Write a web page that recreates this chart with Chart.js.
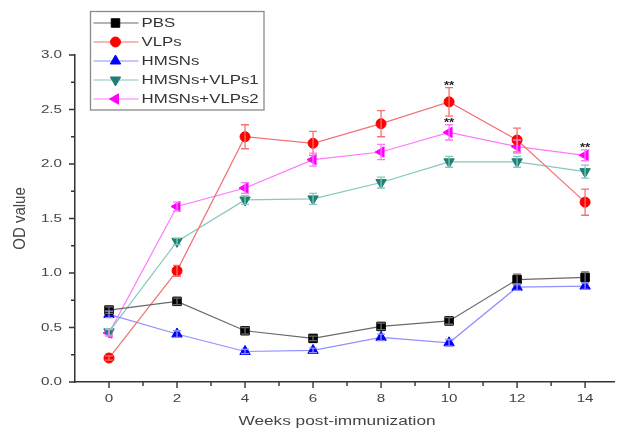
<!DOCTYPE html>
<html>
<head>
<meta charset="utf-8">
<script src="https://cdn.jsdelivr.net/npm/chart.js@4.4.1/dist/chart.umd.min.js"></script>
<style>
html,body{margin:0;padding:0;background:#fff;}
#wrap{width:621px;height:431px;position:relative;}
</style>
</head>
<body>
<div id="wrap"><canvas id="c" width="621" height="431"></canvas></div>
<script>
// ---- data ----
const weeks = [0, 2, 4, 6, 8, 10, 12, 14];
const seriesNames = ['PBS', 'VLPs', 'HMSNs', 'HMSNs+VLPs1', 'HMSNs+VLPs2'];
const pbs   = [0.66, 0.74, 0.47, 0.40, 0.51, 0.56, 0.94, 0.96];
const vlps  = [0.22, 1.02, 2.25, 2.19, 2.37, 2.57, 2.22, 1.65];
const hmsns = [0.62, 0.44, 0.28, 0.29, 0.41, 0.36, 0.87, 0.88];
const hv1   = [0.46, 1.29, 1.67, 1.68, 1.83, 2.02, 2.02, 1.93];
const hv2   = [0.45, 1.61, 1.78, 2.04, 2.11, 2.29, 2.16, 2.08];
const pbsErr   = [0.03, 0.03, 0.03, 0.02, 0.03, 0.03, 0.05, 0.05];
const vlpsErr  = [0.02, 0.05, 0.11, 0.11, 0.12, 0.13, 0.11, 0.12];
const hmsnsErr = [0.03, 0.03, 0.02, 0.02, 0.03, 0.03, 0.03, 0.03];
const hv1Err   = [0.03, 0.03, 0.04, 0.05, 0.05, 0.05, 0.05, 0.06];
const hv2Err   = [0.03, 0.04, 0.05, 0.06, 0.07, 0.07, 0.06, 0.05];
const yTicks = [0, 0.5, 1.0, 1.5, 2.0, 2.5, 3.0];
const yTickLabels = ['0.0', '0.5', '1.0', '1.5', '2.0', '2.5', '3.0'];
const xTicks = [0, 2, 4, 6, 8, 10, 12, 14];
const xTickLabels = ['0', '2', '4', '6', '8', '10', '12', '14'];
const xMinor = [1, 3, 5, 7, 9, 11, 13];
const yMinor = [0.25, 0.75, 1.25, 1.75, 2.25, 2.75];
// significance marks: [week, series index]
const sigMarks = [[10, 1], [10, 4], [14, 4]];
const sigText = '**';
const xTitle = 'Weeks post-immunization';
const yTitle = 'OD value';

// ---- styles ----
const lineColors = ['#6a6a6a', '#f27272', '#9090ff', '#86c8bb', '#ff78ff'];
const markColors = ['#000000', '#ff0000', '#0000ff', '#1f7f74', '#ff00ff'];
const markStyles = ['rect', 'circle', 'triangle', 'triangle', 'triangle'];
const markRot = [0, 0, 0, 180, -90];
const markRad = [6, 5, 6, 6, 6];
const values = [pbs, vlps, hmsns, hv1, hv2];
const errs = [pbsErr, vlpsErr, hmsnsErr, hv1Err, hv2Err];
const FONT = '"Liberation Sans", Arial, sans-serif';
const SX = 1.38; // horizontal stretch of the reference's lettering

function sText(ctx, text, x, y, align, sx) {
  ctx.save();
  ctx.translate(x, y);
  ctx.scale(sx, 1);
  ctx.textAlign = align;
  ctx.fillText(text, 0, 0);
  ctx.restore();
}

const datasets = seriesNames.map((n, i) => ({
  label: n,
  data: weeks.map((w, j) => ({x: w, y: values[i][j]})),
  borderColor: lineColors[i],
  backgroundColor: markColors[i],
  pointBackgroundColor: markColors[i],
  pointBorderColor: markColors[i],
  pointStyle: markStyles[i],
  rotation: markRot[i],
  pointRadius: markRad[i],
  borderWidth: 1.2,
  pointBorderWidth: 1,
  tension: 0,
  errors: errs[i]
}));

const errorBarPlugin = {
  id: 'errbars',
  afterDatasetsDraw(chart) {
    const ctx = chart.ctx, xs = chart.scales.x, ys = chart.scales.y;
    ctx.save();
    chart.data.datasets.forEach((ds, i) => {
      ctx.strokeStyle = lineColors[i];
      ctx.lineWidth = 1.3;
      ds.data.forEach((p, j) => {
        const e = ds.errors[j];
        const px = xs.getPixelForValue(p.x);
        const top = ys.getPixelForValue(p.y + e);
        const bot = ys.getPixelForValue(p.y - e);
        ctx.beginPath();
        ctx.moveTo(px, top); ctx.lineTo(px, bot);
        ctx.moveTo(px - 4, top); ctx.lineTo(px + 4, top);
        ctx.moveTo(px - 4, bot); ctx.lineTo(px + 4, bot);
        ctx.stroke();
      });
    });
    // significance stars
    ctx.fillStyle = '#222';
    ctx.font = 'bold 11px ' + FONT;
    ctx.textBaseline = 'alphabetic';
    sigMarks.forEach(([w, si]) => {
      const j = weeks.indexOf(w);
      const v = values[si][j] + errs[si][j];
      sText(ctx, sigText, xs.getPixelForValue(w), ys.getPixelForValue(v) + 1, 'center', 1.2);
    });
    ctx.restore();
  }
};

const axesPlugin = {
  id: 'axesExtra',
  afterDraw(chart) {
    const ctx = chart.ctx, xs = chart.scales.x, ys = chart.scales.y, a = chart.chartArea;
    ctx.save();
    // ticks
    ctx.strokeStyle = '#333';
    ctx.lineWidth = 1.4;
    ctx.beginPath();
    xTicks.forEach(v => { const p = xs.getPixelForValue(v); ctx.moveTo(p, a.bottom); ctx.lineTo(p, a.bottom + 6); });
    yTicks.forEach(v => { const p = ys.getPixelForValue(v); ctx.moveTo(a.left, p); ctx.lineTo(a.left - 6, p); });
    xMinor.forEach(v => { const p = xs.getPixelForValue(v); ctx.moveTo(p, a.bottom); ctx.lineTo(p, a.bottom + 4); });
    yMinor.forEach(v => { const p = ys.getPixelForValue(v); ctx.moveTo(a.left, p); ctx.lineTo(a.left - 4, p); });
    ctx.stroke();
    // tick labels
    ctx.fillStyle = '#444';
    ctx.font = '11px ' + FONT;
    ctx.textBaseline = 'middle';
    xTicks.forEach((v, k) => sText(ctx, xTickLabels[k], xs.getPixelForValue(v), a.bottom + 17, 'center', SX));
    yTicks.forEach((v, k) => sText(ctx, yTickLabels[k], a.left - 13, ys.getPixelForValue(v), 'right', SX));
    // titles
    ctx.font = '12.5px ' + FONT;
    sText(ctx, xTitle, 337, 422, 'center', SX);
    ctx.save();
    ctx.translate(20, (a.top + a.bottom) / 2);
    ctx.rotate(-Math.PI / 2);
    ctx.font = '15px ' + FONT;
    ctx.scale(1, 1.1);
    ctx.textAlign = 'center';
    ctx.fillText(yTitle, 0, 0);
    ctx.restore();
    ctx.restore();

    // legend
    ctx.save();
    const bx = 90.5, by = 11.5, bw = 173.5, bh = 98.5;
    ctx.strokeStyle = '#8a8a8a';
    ctx.lineWidth = 1.3;
    ctx.strokeRect(bx, by, bw, bh);
    ctx.font = '12px ' + FONT;
    ctx.textBaseline = 'middle';
    seriesNames.forEach((n, i) => {
      const y = by + 11.5 + i * 19;
      ctx.strokeStyle = lineColors[i];
      ctx.lineWidth = 1.2;
      ctx.beginPath(); ctx.moveTo(bx + 3, y); ctx.lineTo(bx + 48, y); ctx.stroke();
      ctx.fillStyle = markColors[i];
      ctx.strokeStyle = markColors[i];
      ctx.lineWidth = 1;
      Chart.helpers.drawPoint(ctx, {pointStyle: markStyles[i], rotation: markRot[i], radius: markRad[i], borderWidth: 1}, bx + 25, y);
      ctx.fillStyle = '#333';
      sText(ctx, n, bx + 51, y + 1, 'left', 1.4);
    });
    ctx.restore();
  }
};

new Chart(document.getElementById('c'), {
  type: 'line',
  data: { datasets },
  plugins: [errorBarPlugin, axesPlugin],
  options: {
    responsive: false,
    animation: false,
    layout: { padding: { top: 55, right: 0, left: 0, bottom: 0 } },
    plugins: { legend: { display: false }, tooltip: { enabled: false } },
    scales: {
      x: {
        type: 'linear',
        min: -1, max: 14.85,
        afterBuildTicks: s => { s.ticks = xTicks.map(v => ({value: v})); },
        afterFit: s => { s.height = 49; },
        grid: { drawOnChartArea: false, drawTicks: false },
        border: { color: '#333', width: 1.5 },
        ticks: { display: false }
      },
      y: {
        min: 0, max: 3,
        afterBuildTicks: s => { s.ticks = yTicks.map(v => ({value: v})); },
        afterFit: s => { s.width = 75; },
        grid: { drawOnChartArea: false, drawTicks: false },
        border: { color: '#333', width: 1.5 },
        ticks: { display: false }
      }
    }
  }
});
</script>
</body>
</html>
